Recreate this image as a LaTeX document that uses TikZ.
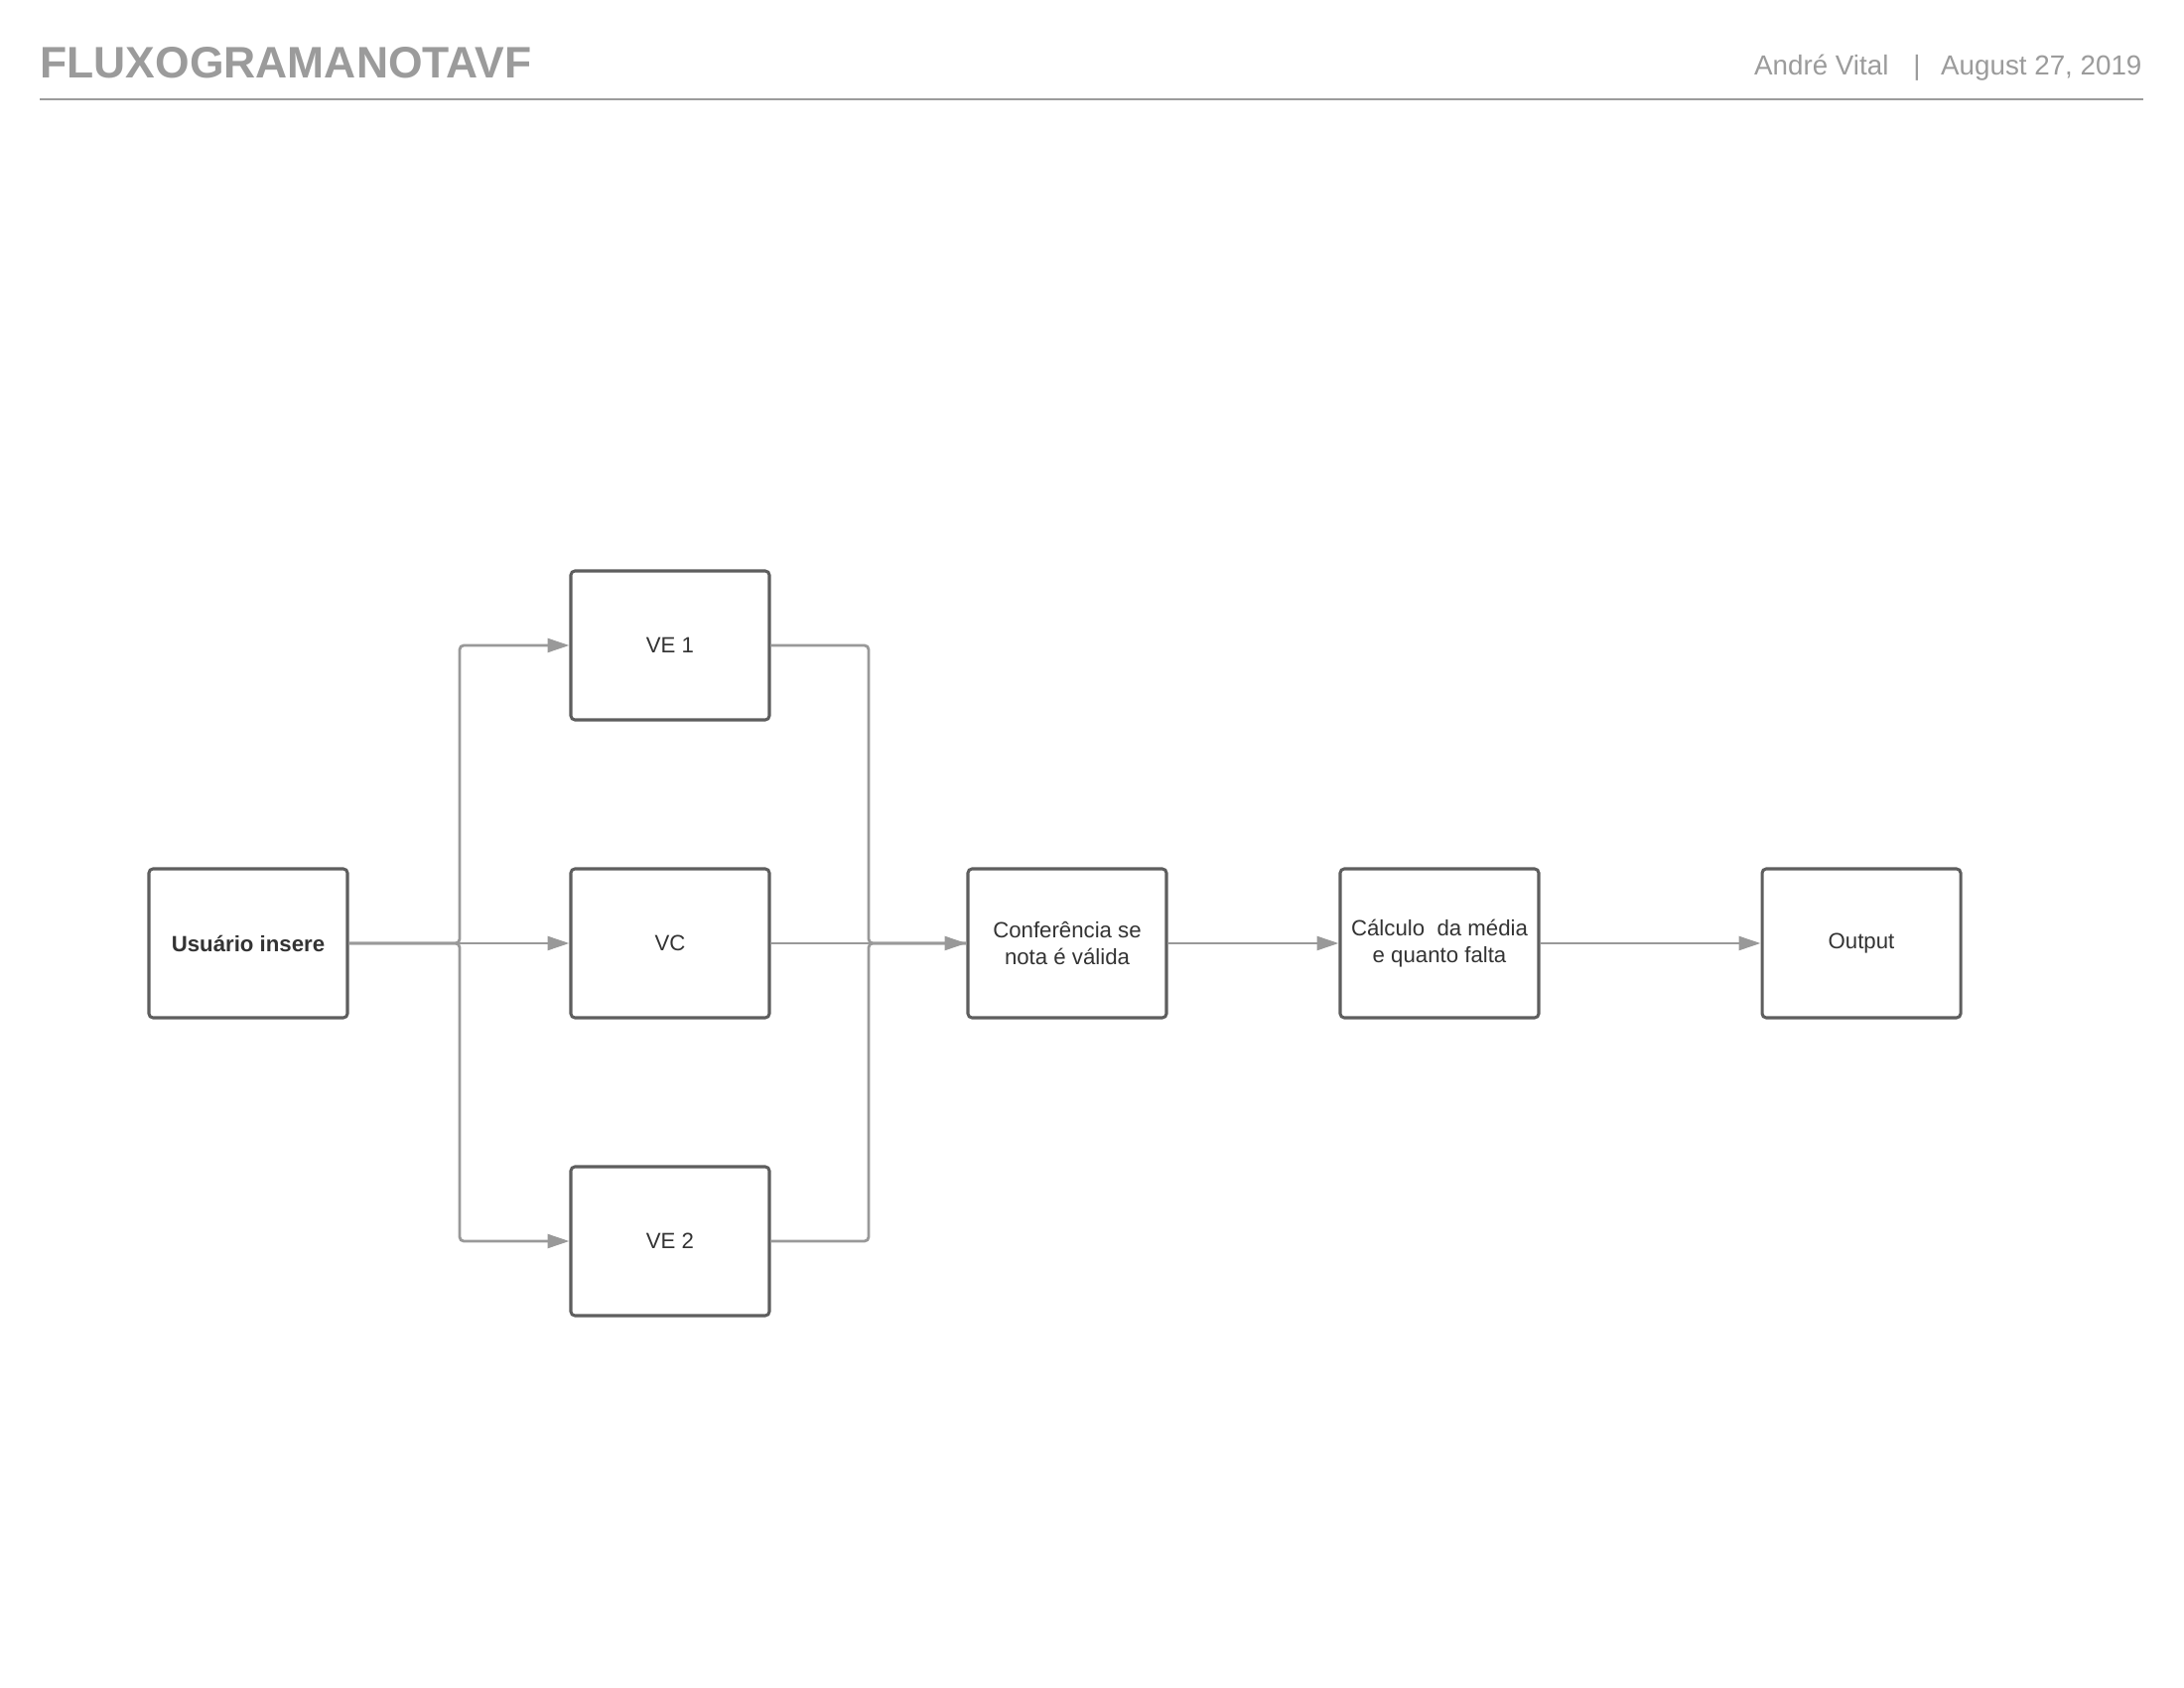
\documentclass[tikz,border=0pt]{standalone}
\usepackage{fontspec}
\setmainfont{Liberation Sans}
\usetikzlibrary{arrows.meta}
\definecolor{boxline}{HTML}{5E5E5E}
\definecolor{linkline}{HTML}{999999}
\definecolor{boxtext}{HTML}{333333}
\definecolor{headgray}{HTML}{9B9B9B}
\tikzset{
  box/.style={draw=boxline, line width=1.1pt, rounded corners=1.5pt, minimum width=72pt, minimum height=54pt,
    inner sep=1pt, align=center, text=boxtext, font=\fontsize{8}{9.7}\selectfont},
  link/.style={draw=linkline, line width=1pt, rounded corners=1.5pt, -{Triangle[length=7.9pt,width=5pt]}},
  plainlink/.style={draw=linkline, line width=1pt, rounded corners=1.5pt}
}
\begin{document}
\begin{tikzpicture}[x=0.36pt,y=0.36pt,yscale=-1,xscale=1]
            \useasboundingbox (0,0) rectangle (2200,1700);
            % header
            \node[anchor=base west, text=headgray, font=\fontsize{16}{19}\selectfont\bfseries, inner sep=0pt] (title) at (40,79) {FLUXOGRAMANOTAVF};
            \node[anchor=base east, text=headgray, font=\fontsize{10}{12}\selectfont, inner sep=0pt] (date) at (2158,76) {August 27, 2019};
            \node[anchor=base, text=headgray, font=\fontsize{10}{12}\selectfont, inner sep=0pt] (bar) at (1931,76) {|};
            \node[anchor=base east, text=headgray, font=\fontsize{10}{12}\selectfont, inner sep=0pt] (author) at (1903,76) {André Vital};
            \draw[headgray, line width=0.8pt] (40,100) -- (2159,100);
            % boxes
            \node[box, font=\fontsize{8}{9.7}\selectfont\bfseries] (usuario) at (250,950) {Usuário insere};
            \node[box] (ve1) at (675,650) {VE 1};
            \node[box] (vc) at (675,950) {VC};
            \node[box] (ve2) at (675,1250) {VE 2};
            \node[box] (conf) at (1075,950) {Conferência se\\nota é válida};
            \node[box] (calc) at (1450,950) {Cálculo\ \ da média\\e quanto falta};
            \node[box] (output) at (1875,950) {Output};
            \coordinate (split) at (463,950);
            \coordinate (merge) at (875,950);
            % connectors
            \draw[link] (usuario.east) -- (split) |- (ve1.west);
            \draw[link] (usuario.east) -- (vc.west);
            \draw[link] (usuario.east) -- (split) |- (ve2.west);
            \draw[plainlink] (ve1.east) -| (merge) -- (conf.west);
            \draw[link] (vc.east) -- (conf.west);
            \draw[plainlink] (ve2.east) -| (merge) -- (conf.west);
            \draw[link] (conf.east) -- (calc.west);
            \draw[link] (calc.east) -- (output.west);
        \end{tikzpicture}
\end{document}
